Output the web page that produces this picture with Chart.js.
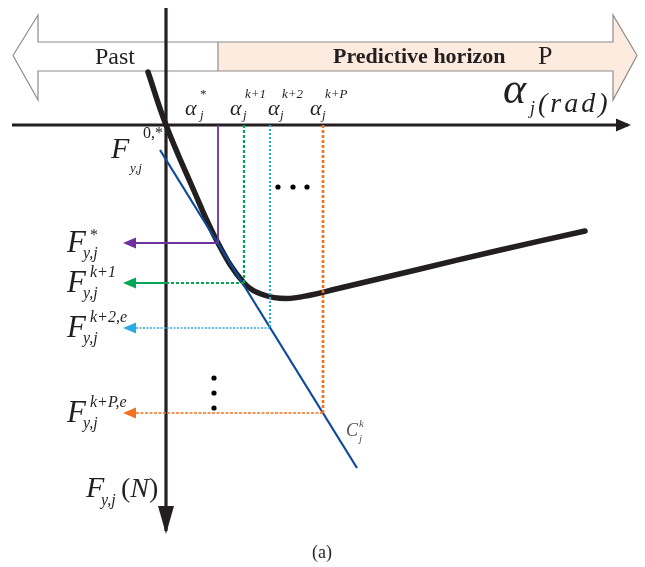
<!DOCTYPE html>
<html>
<head>
<meta charset="utf-8">
<script src="https://cdn.jsdelivr.net/npm/chart.js@4.4.1/dist/chart.umd.min.js"></script>
<style>
  html, body { margin: 0; padding: 0; background: #fff; }
  #wrap { width: 645px; height: 567px; position: relative; }
</style>
</head>
<body>
<div id="wrap"><canvas id="diagram"></canvas></div>
<script>
// tyre characteristic: slip angle alpha_j (x) against lateral force F_y,j (y, drawn downwards)
const curveAlpha = [-1.8, 0, 2.5, 5.2, 7.8, 9.8, 12.0, 14.5, 17.0, 25.0, 33.0, 41.9];
const curveForce = [-5.3, 0, 5.9, 11.8, 15.8, 17.0, 17.35, 17.0, 16.4, 14.5, 12.6, 10.6];

// linearised model C_j^k
const tangentAlpha = [-0.6, 19.1];
const tangentForce = [2.5, 34.3];

// operating points over the horizon: *, k+1, k+2, k+P
const stepAlpha = [5.2, 7.8, 10.4, 15.7];
const stepForce = [11.8, 15.8, 20.3, 28.8];
const alphaSup = ['*', 'k+1', 'k+2', 'k+P'];
const forceSup = ['*', 'k+1', 'k+2,e', 'k+P,e'];

const arrowTip = -4.3;           // where the force arrows end, left of the axis
const axisX = [-15.4, 46.2];      // alpha axis extent
const axisY = [-11.7, 40.6];      // force axis extent

const stepStyle = [
  { color: '#7030a0', v: [],     hr: [],       hl: [],       vw: 1.8, hw: 1.8 },
  { color: '#00a651', v: [3, 2], hr: [3, 2],   hl: [],       vw: 2.2, hw: 2 },
  { color: '#29abe2', v: [2, 2], hr: [2, 1.5], hl: [2, 1.5], vw: 2.2, hw: 1.6 },
  { color: '#f37021', v: [3, 2], hr: [3, 1.5], hl: [3, 1.5], vw: 2.6, hw: 1.6 }
];

const SERIF = '"Liberation Serif", "DejaVu Serif", serif';
const INK = '#231f20';

function seg(x0, y0, x1, y1, color, width, dash) {
  return {
    data: [{ x: x0, y: y0 }, { x: x1, y: y1 }],
    borderColor: color, borderWidth: width, borderDash: dash || [],
    pointRadius: 0, showLine: true, fill: false
  };
}

const datasets = [];

// projections from each operating point to both axes
stepAlpha.forEach((a, i) => {
  const f = stepForce[i], s = stepStyle[i];
  datasets.push(seg(a, 0, a, f, s.color, s.vw, s.v));
  datasets.push(seg(a, f, 0, f, s.color, s.hw, s.hr));
  datasets.push(seg(0, f, arrowTip + 1, f, s.color, s.hw, s.hl));
});

datasets.push({
  data: tangentAlpha.map((a, i) => ({ x: a, y: tangentForce[i] })),
  borderColor: '#0b4a9a', borderWidth: 2.2, pointRadius: 0, showLine: true
});

datasets.push(seg(axisX[0], 0, axisX[1], 0, INK, 3.2));
datasets.push(seg(0, axisY[0], 0, axisY[1], INK, 3.2));

datasets.push({
  data: curveAlpha.map((a, i) => ({ x: a, y: curveForce[i] })),
  borderColor: INK, borderWidth: 5.5, pointRadius: 0, showLine: true,
  tension: 0.4, borderCapStyle: 'round', borderJoinStyle: 'round'
});

function txt(ctx, s, x, y, size, o) {
  o = o || {};
  ctx.font = (o.italic ? 'italic ' : '') + (o.bold ? 'bold ' : '') + size + 'px ' + SERIF;
  ctx.fillStyle = o.color || INK;
  ctx.letterSpacing = o.spacing || '0px';
  if (o.maxWidth) ctx.fillText(s, x, y, o.maxWidth);
  else ctx.fillText(s, x, y);
  const w = ctx.measureText(s).width;
  ctx.letterSpacing = '0px';
  return x + Math.min(w, o.maxWidth || 1e9);
}

function head(ctx, x, y, dir, len, half, color) {
  ctx.fillStyle = color;
  ctx.beginPath();
  ctx.moveTo(x, y);
  if (dir === 'left') { ctx.lineTo(x + len, y - half); ctx.lineTo(x + len, y + half); }
  if (dir === 'right') { ctx.lineTo(x - len, y - half); ctx.lineTo(x - len, y + half); }
  if (dir === 'down') { ctx.lineTo(x - half, y - len); ctx.lineTo(x + half, y - len); }
  ctx.closePath();
  ctx.fill();
}

function dot(ctx, x, y) {
  ctx.fillStyle = '#000';
  ctx.beginPath();
  ctx.arc(x, y, 2.6, 0, Math.PI * 2);
  ctx.fill();
}

// Past / Predictive horizon double arrow behind everything
const horizonBand = {
  id: 'horizonBand',
  beforeDatasetsDraw(chart) {
    const { ctx, scales: { x, y } } = chart;
    const X = v => x.getPixelForValue(v), Y = v => y.getPixelForValue(v);
    const tipL = -15.3, baseL = -12.8, split = 5.2, baseR = 44.7, tipR = 47.1;
    const top = -8.3, bot = -5.4, hTop = -11.0, hBot = -2.5, mid = -6.95;
    ctx.save();
    ctx.fillStyle = '#fdebdf';
    ctx.beginPath();
    ctx.moveTo(X(split), Y(top));
    ctx.lineTo(X(baseR), Y(top));
    ctx.lineTo(X(baseR), Y(hTop));
    ctx.lineTo(X(tipR), Y(mid));
    ctx.lineTo(X(baseR), Y(hBot));
    ctx.lineTo(X(baseR), Y(bot));
    ctx.lineTo(X(split), Y(bot));
    ctx.closePath();
    ctx.fill();
    ctx.strokeStyle = '#8c8c8c';
    ctx.lineWidth = 1.2;
    ctx.beginPath();
    ctx.moveTo(X(tipL), Y(mid));
    ctx.lineTo(X(baseL), Y(hTop));
    ctx.lineTo(X(baseL), Y(top));
    ctx.lineTo(X(baseR), Y(top));
    ctx.lineTo(X(baseR), Y(hTop));
    ctx.lineTo(X(tipR), Y(mid));
    ctx.lineTo(X(baseR), Y(hBot));
    ctx.lineTo(X(baseR), Y(bot));
    ctx.lineTo(X(baseL), Y(bot));
    ctx.lineTo(X(baseL), Y(hBot));
    ctx.closePath();
    ctx.stroke();
    ctx.beginPath();
    ctx.moveTo(X(split), Y(top));
    ctx.lineTo(X(split), Y(bot));
    ctx.stroke();
    ctx.restore();
  }
};

const annotations = {
  id: 'annotations',
  afterDatasetsDraw(chart) {
    const { ctx, scales: { x, y } } = chart;
    const X = v => x.getPixelForValue(v), Y = v => y.getPixelForValue(v);
    ctx.save();
    ctx.textBaseline = 'alphabetic';

    head(ctx, X(axisX[1]) + 3, Y(0), 'right', 15, 6.5, INK);
    head(ctx, X(0), Y(axisY[1]) + 3, 'down', 28, 8, INK);
    stepForce.forEach((f, i) => head(ctx, X(arrowTip), Y(f), 'left', 13, 5.5, stepStyle[i].color));

    // band captions
    txt(ctx, 'Past', 95, 64, 24);
    txt(ctx, 'Predictive horizon', 333, 63, 22, { bold: true, maxWidth: 178 });
    txt(ctx, 'P', 538, 64, 26);

    // alpha axis title
    txt(ctx, '\u03b1', 503, 103, 44, { italic: true });
    txt(ctx, 'j', 530, 114, 18, { italic: true });
    txt(ctx, '(rad)', 538, 112, 28, { italic: true, spacing: '3px', maxWidth: 76 });

    // alpha marks along the axis
    const aLeft = [185, 230, 268, 310];
    const aSupX = [200, 245, 282, 325];
    const aSubX = [200, 243, 280, 322];
    alphaSup.forEach((s, i) => {
      txt(ctx, '\u03b1', aLeft[i], 115, 22, { italic: true });
      txt(ctx, s, aSupX[i], 98, 13, { italic: s !== '*' });
      txt(ctx, 'j', aSubX[i], 119, 13, { italic: true });
    });

    // force labels on the left
    forceSup.forEach((s, i) => {
      const fy = Y(stepForce[i]);
      txt(ctx, 'F', 67, fy + 9, 31, { italic: true });
      txt(ctx, s, 90, fy - (s === '*' ? 3 : 6), 16, { italic: s !== '*' });
      txt(ctx, 'y,j', 83, fy + 15, 16, { italic: true });
    });

    txt(ctx, 'F', 111, 158, 30, { italic: true });
    txt(ctx, '0,*', 143, 138, 16);
    txt(ctx, 'y,j', 130, 172, 13, { italic: true });

    // force axis title
    txt(ctx, 'F', 86, 497, 30, { italic: true });
    txt(ctx, 'y,j', 101, 505, 16, { italic: true });
    let px = txt(ctx, '(', 121, 497, 28);
    px = txt(ctx, 'N', px, 497, 28, { italic: true });
    txt(ctx, ')', px, 497, 28);

    // model label
    txt(ctx, 'C', 346, 436, 18, { italic: true, color: '#555' });
    txt(ctx, 'k', 359, 427, 11, { italic: true, color: '#555' });
    txt(ctx, 'j', 359, 442, 11, { italic: true, color: '#555' });

    [278, 293, 307].forEach(d => dot(ctx, d, 187));
    [378, 393, 408].forEach(d => dot(ctx, 214, d));

    txt(ctx, '(a)', 312, 558, 18);
    ctx.restore();
  }
};

new Chart(document.getElementById('diagram'), {
  type: 'scatter',
  data: { datasets },
  options: {
    responsive: true,
    maintainAspectRatio: false,
    animation: false,
    layout: { padding: 0 },
    plugins: { legend: { display: false }, tooltip: { enabled: false } },
    scales: {
      x: { type: 'linear', min: -16.6, max: 47.9, display: false },
      y: { type: 'linear', min: -12.5, max: 44.2, reverse: true, display: false }
    }
  },
  plugins: [horizonBand, annotations]
});
</script>
</body>
</html>
